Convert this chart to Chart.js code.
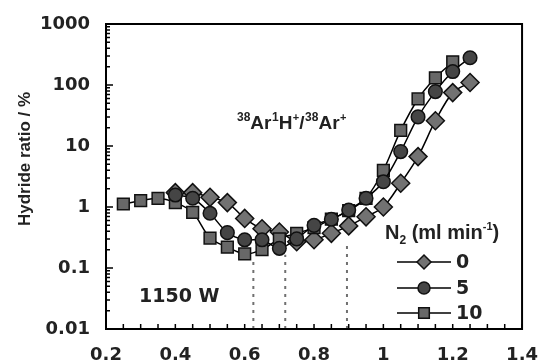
<!DOCTYPE html>
<html>
<head>
<meta charset="utf-8">
<script src="https://cdn.jsdelivr.net/npm/chart.js@4/dist/chart.umd.min.js"></script>
<style>
html, body { margin: 0; padding: 0; background: #fff; }
</style>
</head>
<body>
<canvas id="c" width="546" height="363"></canvas>
<script>
// N2 = 0 ml/min (diamonds)
const xN0 = [0.4, 0.45, 0.5, 0.55, 0.6, 0.65, 0.7, 0.75, 0.8, 0.85, 0.9, 0.95, 1.0, 1.05, 1.1, 1.15, 1.2, 1.25];
const yN0 = [1.72, 1.72, 1.44, 1.18, 0.65, 0.44, 0.39, 0.27, 0.29, 0.37, 0.49, 0.69, 1.0, 2.45, 6.7, 26, 75, 110];
// N2 = 5 ml/min (circles)
const xN5 = [0.4, 0.45, 0.5, 0.55, 0.6, 0.65, 0.7, 0.75, 0.8, 0.85, 0.9, 0.95, 1.0, 1.05, 1.1, 1.15, 1.2, 1.25];
const yN5 = [1.57, 1.39, 0.79, 0.38, 0.29, 0.29, 0.21, 0.3, 0.5, 0.63, 0.89, 1.39, 2.6, 8.1, 30, 78, 166, 280];
// N2 = 10 ml/min (squares)
const xN10 = [0.25, 0.3, 0.35, 0.4, 0.45, 0.5, 0.55, 0.6, 0.65, 0.7, 0.75, 0.8, 0.85, 0.9, 0.95, 1.0, 1.05, 1.1, 1.15, 1.2];
const yN10 = [1.12, 1.27, 1.39, 1.18, 0.82, 0.31, 0.22, 0.17, 0.2, 0.3, 0.37, 0.46, 0.63, 0.87, 1.39, 4.0, 18, 59, 131, 240];
// dotted drop lines at the minima
const dropX = [0.625, 0.717, 0.895];
const dropTop = [0.15, 0.165, 0.235];

const seriesLabels = ['0', '5', '10'];
const xTickLabels = ['0.2', '0.4', '0.6', '0.8', '1', '1.2', '1.4'];
const yTickLabels = ['0.01', '0.1', '1', '10', '100', '1000'];

const FONT = '"Liberation Sans", Arial, sans-serif';
const WIDE = '"DejaVu Sans", sans-serif';

function pts(xs, ys) {
  return xs.map((x, i) => ({x: x, y: ys[i]}));
}

var styles = [
  {style: 'rectRot', radius: 9, fill: '#727272', legendR: 7},
  {style: 'circle', radius: 6.8, fill: '#454545', legendR: 6},
  {style: 'rect', radius: 8.3, fill: '#686868', legendR: 7.5}
];
var orders = [3, 1, 2];
var dataSets = [pts(xN0, yN0), pts(xN5, yN5), pts(xN10, yN10)];

var datasets = dataSets.map((d, i) => ({
  label: seriesLabels[i],
  data: d,
  borderColor: '#000',
  borderWidth: 1.5,
  tension: 0.3,
  pointStyle: styles[i].style,
  pointRadius: styles[i].radius,
  pointBackgroundColor: styles[i].fill,
  pointBorderColor: '#111',
  pointBorderWidth: 1.5,
  order: orders[i]
}));

dropX.forEach((x, i) => {
  datasets.push({
    label: 'drop' + i,
    data: [{x: x, y: 0.01}, {x: x, y: dropTop[i]}],
    borderColor: '#707070',
    borderWidth: 2,
    borderDash: [3, 5],
    pointRadius: 0,
    order: 5
  });
});

// frame, inside tick marks, axis title, annotations and legend
const decor = {
  id: 'decor',
  afterDraw(chart) {
    const ctx = chart.ctx;
    const a = chart.chartArea;
    const xs = chart.scales.x, ys = chart.scales.y;
    ctx.save();
    ctx.strokeStyle = '#000';
    ctx.lineWidth = 2;
    ctx.strokeRect(a.left, a.top, a.right - a.left, a.bottom - a.top);

    ctx.lineWidth = 1.5;
    ctx.beginPath();
    xs.ticks.forEach(t => {
      const px = xs.getPixelForValue(t.value);
      ctx.moveTo(px, a.bottom);
      ctx.lineTo(px, a.bottom - 5);
    });
    for (let e = -2; e < 3; e++) {
      for (let d = 1; d <= 9; d++) {
        const py = ys.getPixelForValue(d * Math.pow(10, e));
        ctx.moveTo(a.left, py);
        ctx.lineTo(a.left + (d === 1 ? 7 : 4), py);
      }
    }
    ctx.moveTo(a.left, a.top);
    ctx.lineTo(a.left + 7, a.top);
    ctx.stroke();

    ctx.fillStyle = '#222';
    // y axis title
    ctx.save();
    ctx.translate(25, 159);
    ctx.rotate(-Math.PI / 2);
    ctx.textAlign = 'center';
    ctx.textBaseline = 'middle';
    ctx.font = 'bold 17px ' + FONT;
    ctx.fillText('Hydride ratio / %', 0, 0);
    ctx.restore();

    ctx.textBaseline = 'alphabetic';
    // 38Ar1H+/38Ar+
    const parts = [
      ['38', 12, -8], ['Ar', 19, 0], ['1', 12, -8], ['H', 19, 0], ['+', 11, -8],
      ['/', 19, 0], ['38', 12, -8], ['Ar', 19, 0], ['+', 11, -8]
    ];
    let cx = 237;
    parts.forEach(p => {
      ctx.font = 'bold ' + p[1] + 'px ' + FONT;
      ctx.fillText(p[0], cx, 129 + p[2]);
      cx += ctx.measureText(p[0]).width + (p[1] > 12 ? 0.5 : 0);
    });

    ctx.font = 'bold 19px ' + WIDE;
    ctx.fillText('1150 W', 139, 302);

    // legend title N2 (ml min-1)
    const lp = [
      ['N', 20, 0], ['2', 12, 5], [' (ml min', 20, 0], ['-1', 11, -9], [')', 20, 0]
    ];
    cx = 385;
    lp.forEach(p => {
      ctx.font = 'bold ' + p[1] + 'px ' + FONT;
      ctx.fillText(p[0], cx, 239 + p[2]);
      cx += ctx.measureText(p[0]).width;
    });

    const rowY = [262, 288, 313];
    seriesLabels.forEach((lab, i) => {
      const y = rowY[i];
      ctx.strokeStyle = '#000';
      ctx.lineWidth = 1.5;
      ctx.beginPath();
      ctx.moveTo(397, y);
      ctx.lineTo(451, y);
      ctx.stroke();
      ctx.fillStyle = styles[i].fill;
      ctx.strokeStyle = '#111';
      Chart.helpers.drawPoint(ctx, {pointStyle: styles[i].style, radius: styles[i].legendR, borderWidth: 1.5, rotation: 0}, 424, y);
      ctx.fillStyle = '#222';
      ctx.font = 'bold 19px ' + WIDE;
      ctx.textBaseline = 'middle';
      ctx.fillText(lab, 456, y + 1);
      ctx.textBaseline = 'alphabetic';
    });
    ctx.restore();
  }
};

new Chart(document.getElementById('c'), {
  type: 'line',
  data: {datasets: datasets},
  options: {
    responsive: false,
    animation: false,
    devicePixelRatio: 1,
    layout: {padding: {left: 0, right: 20, top: 24, bottom: 0}},
    plugins: {legend: {display: false}, tooltip: {enabled: false}},
    scales: {
      x: {
        type: 'linear',
        min: 0.2,
        max: 1.4,
        afterFit: s => { s.height = 34; },
        grid: {display: false},
        border: {display: true, color: '#000', width: 2},
        ticks: {
          stepSize: 0.05,
          autoSkip: false,
          maxRotation: 0,
          padding: 8,
          color: '#222',
          font: {family: WIDE, size: 18, weight: 'bold'},
          callback: v => {
            const k = Math.round(v * 5);
            if (Math.abs(v * 5 - k) > 1e-6) return '';
            return xTickLabels[k - 1];
          }
        }
      },
      y: {
        type: 'logarithmic',
        min: 0.01,
        max: 1000,
        afterFit: s => { s.width = 106; },
        grid: {display: false},
        border: {display: true, color: '#000', width: 2},
        ticks: {
          autoSkip: false,
          padding: 8,
          color: '#222',
          font: {family: WIDE, size: 18, weight: 'bold'},
          callback: v => {
            const e = Math.log10(v);
            if (Math.abs(e - Math.round(e)) > 1e-6) return '';
            return yTickLabels[Math.round(e) + 2];
          }
        }
      }
    }
  },
  plugins: [decor]
});
</script>
</body>
</html>
